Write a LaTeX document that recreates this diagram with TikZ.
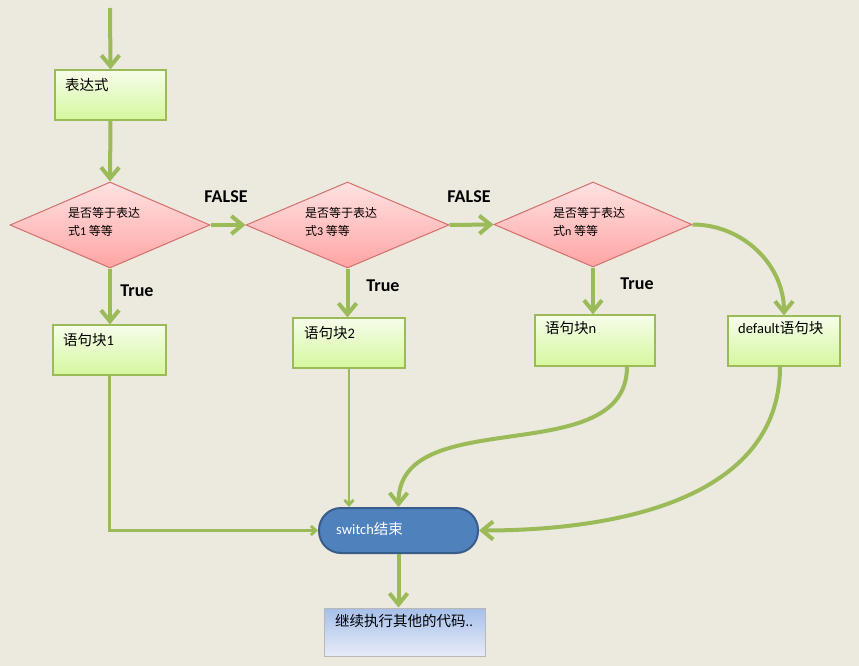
\documentclass[tikz,border=0pt]{standalone}
\usepackage{fontspec}
\setmainfont{Carlito}
\newfontfamily\cjk{Noto Sans CJK SC}
\usetikzlibrary{arrows.meta,shapes.geometric}
\definecolor{bg}{HTML}{ECE9DF}
\definecolor{arrowgreen}{HTML}{9BBB59}
\definecolor{gtop}{HTML}{F6FDEB}
\definecolor{gbot}{HTML}{D6F79E}
\definecolor{ptop}{HTML}{FFE2E2}
\definecolor{pbot}{HTML}{FFA4A4}
\definecolor{pborder}{HTML}{D46F6C}
\definecolor{ovalfill}{HTML}{4F81BD}
\definecolor{ovalborder}{HTML}{385D8A}
\definecolor{btop}{HTML}{A6BFEA}
\definecolor{bbot}{HTML}{E6ECF8}
\definecolor{bborder}{HTML}{B8B8B8}
\tikzset{
  gbox/.style={draw=arrowgreen, line width=1.2pt, top color=gtop, bottom color=gbot, inner sep=0pt},
  decision/.style={diamond, draw=pborder, line width=1pt, top color=ptop, bottom color=pbot, inner sep=0pt, minimum width=200pt, minimum height=86pt},
  txt/.style={inner sep=0pt, font=\fontsize{14.5pt}{16pt}\selectfont, text=black},
  dtxt/.style={inner sep=0pt, font=\fontsize{12pt}{18pt}\selectfont, align=left, text=black},
  lbl/.style={inner sep=0pt, font=\fontsize{18pt}{20pt}\selectfont\bfseries, text=black},
  thick arrow/.style={draw=arrowgreen, line width=4pt, -{Straight Barb[length=11pt,width=18pt]}},
  thin arrow/.style={draw=arrowgreen, line width=2.8pt, -{Straight Barb[length=5pt,width=9pt]}},
}
\begin{document}
\begin{tikzpicture}[x=1pt,y=-1pt]
\fill[bg] (0,0) rectangle (859,666);
\useasboundingbox (0,0) rectangle (859,666);

% boxes
\node[gbox, minimum width=111pt, minimum height=50pt] (expr) at (110.5,95) {};
\node[txt, anchor=west] (exprt) at (65,85) {\cjk 表达式};

\node[decision] (d1) at (110,225) {};
\node[dtxt, anchor=north west] (d1t) at (68,207) {{\cjk 是否等于表达}\\{\cjk 式}1 {\cjk 等等}};
\node[decision, minimum width=203pt] (d2) at (347.5,225) {};
\node[dtxt, anchor=north west] (d2t) at (305,207) {{\cjk 是否等于表达}\\{\cjk 式}3 {\cjk 等等}};
\node[decision, minimum width=198pt, minimum height=85pt] (d3) at (593,224.5) {};
\node[dtxt, anchor=north west] (d3t) at (553,207) {{\cjk 是否等于表达}\\{\cjk 式}n {\cjk 等等}};

\node[gbox, minimum width=113pt, minimum height=50pt] (b1) at (109.5,350) {};
\node[txt, anchor=west] (b1t) at (63,340) {{\cjk 语句块}1};
\node[gbox, minimum width=112pt, minimum height=50pt] (b2) at (349,343) {};
\node[txt, anchor=west] (b2t) at (304,333) {{\cjk 语句块}2};
\node[gbox, minimum width=120pt, minimum height=51pt] (bn) at (595,340.5) {};
\node[txt, anchor=west] (bnt) at (545,328) {{\cjk 语句块}n};
\node[gbox, minimum width=112pt, minimum height=50pt] (def) at (784,341) {};
\node[txt, anchor=west] (deft) at (738,328) {default{\cjk 语句块}};

\node[draw=ovalborder, line width=2pt, fill=ovalfill, rounded corners=22pt, minimum width=159pt, minimum height=45pt, inner sep=0pt] (end) at (398.5,530.5) {};
\node[txt, anchor=west, text=white] (endt) at (336,529) {switch{\cjk 结束}};

\node[draw=bborder, line width=1pt, top color=btop, bottom color=bbot, minimum width=161pt, minimum height=48pt, inner sep=0pt] (fin) at (404.5,632) {};
\node[txt, anchor=west] (fint) at (335,621) {{\cjk 继续执行其他的代码}..};

% labels
\node[lbl] (f1) at (226,197) {FALSE};
\node[lbl] (f2) at (469,197) {FALSE};
\node[lbl] (t1) at (137,291) {True};
\node[lbl] (t2) at (383,286) {True};
\node[lbl] (t3) at (637,284) {True};

% connectors
\coordinate (start) at (110,8);
\draw[thick arrow] (start) -- (expr.north);
\draw[thick arrow] (expr.south) -- (d1.north);
\draw[thick arrow] (d1.east) -- (d2.west);
\draw[thick arrow] (d2.east) -- (d3.west);
\draw[thick arrow] (d1.south) -- (d1.south |- b1.north);
\draw[thick arrow] (d2.south) -- (d2.south |- b2.north);
\draw[thick arrow] (d3.south) -- (d3.south |- bn.north);
\draw[thick arrow] (d3.east) to[out=0,in=90] (def.north);
\draw[thin arrow] (b1.south) |- (end.west);
\draw[thin arrow] (b2.south) -- (b2.south |- end.north);
\draw[thick arrow] ([xshift=32pt]bn.south) to[out=-90,in=90] (end.north);
\draw[thick arrow] ([xshift=-4pt]def.south) to[out=-90,in=0] (end.east);
\draw[thick arrow] (end.south) -- (end.south |- fin.north);
\end{tikzpicture}
\end{document}
